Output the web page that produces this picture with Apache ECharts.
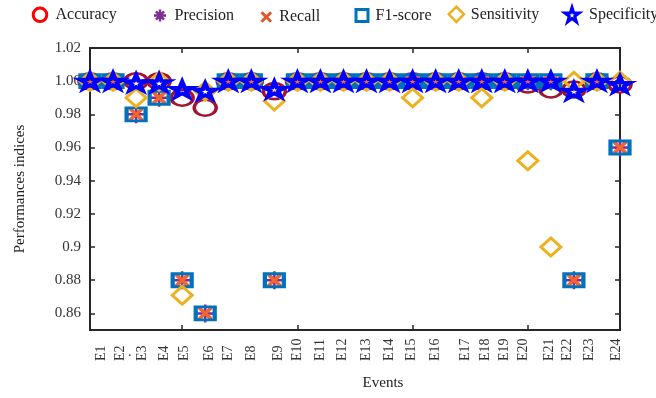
<!DOCTYPE html>
<html>
<head>
<meta charset="utf-8">
<script src="https://cdn.jsdelivr.net/npm/echarts@6/dist/echarts.min.js"></script>
<style>
  html, body { margin: 0; padding: 0; background: #fff; }
  #chart { width: 656px; height: 398px; }
</style>
</head>
<body>
<div id="chart"></div>
<script>
// Event labels and the x position (in event units) where each label sits
const events = ['E1','E2','E3','E4','E5','E6','E7','E8','E9','E10','E11','E12',
                'E13','E14','E15','E16','E17','E18','E19','E20','E21','E22','E23','E24'];
const eventLabelPos = [1.48, 2.31, 3.25, 4.22, 5.09, 6.17, 7.0, 7.98, 9.16, 9.99, 10.98, 11.97,
                       12.98, 13.97, 14.96, 15.97, 17.27, 18.14, 18.97, 19.79, 20.95, 21.73, 22.68, 23.84];
const xTicks = [5, 10, 15, 20];

// Performance indices per event
const accuracy    = [1, 1, 1, 1, 0.990, 0.984, 1, 1, 0.994, 1, 1, 1,
                     1, 1, 1, 1, 1, 1, 1, 0.998, 0.995, 0.995, 1, 0.998];
const precision   = [1, 1, 0.98, 0.99, 0.88, 0.86, 1, 1, 0.88, 1, 1, 1,
                     1, 1, 1, 1, 1, 1, 1, 1, 1, 0.88, 1, 0.96];
const recall      = [1, 1, 0.98, 0.99, 0.88, 0.86, 1, 1, 0.88, 1, 1, 1,
                     1, 1, 1, 1, 1, 1, 1, 1, 1, 0.88, 1, 0.96];
const f1score     = [1, 1, 0.98, 0.99, 0.88, 0.86, 1, 1, 0.88, 1, 1, 1,
                     1, 1, 1, 1, 1, 1, 1, 1, 1, 0.88, 1, 0.96];
const sensitivity = [1, 1, 0.99, 1, 0.871, 0.994, 1, 1, 0.988, 1, 1, 1,
                     1, 1, 0.99, 1, 1, 0.99, 1, 0.952, 0.90, 1, 1, 1];
const specificity = [1, 1, 0.999, 0.999, 0.995, 0.994, 1, 1, 0.995, 1, 1, 1,
                     1, 1, 1, 1, 1, 1, 1, 1, 1, 0.994, 1, 0.998];

// y tick values and their printed labels
const yTicks = [0.86, 0.88, 0.9, 0.92, 0.94, 0.96, 0.98, 1.00, 1.02];
const yTickLabels = ['0.86', '0.88', '0.9', '0.92', '0.94', '0.96', '0.98', '1.00', '1.02'];

const SERIF = '"Liberation Serif", "DejaVu Serif", serif';

const starPath = 'path://M50,0L61.23,34.55L97.55,34.55L68.16,55.9L79.39,90.45L50,69.1L20.61,90.45L31.84,55.9L2.45,34.55L38.77,34.55Z';
const crossPath = 'path://M0,0L10,10M10,0L0,10';
const asteriskPath = 'path://M5,0L5,10M0,5L10,5M1.6,1.6L8.4,8.4M8.4,1.6L1.6,8.4';

function pairs(values) {
  return values.map((v, i) => [i + 1, v]);
}

const seriesDefs = [
  { name: 'Accuracy',    data: accuracy,    symbol: 'circle',     size: [22, 16], color: '#A2142F', width: 3 },
  { name: 'Precision',   data: precision,   symbol: asteriskPath, size: [18, 18], color: '#7E2F8E', width: 2.5 },
  { name: 'Recall',      data: recall,      symbol: crossPath,    size: [12, 11], color: '#F26430', width: 3.5 },
  { name: 'F1-score',    data: f1score,     symbol: 'rect',       size: [19, 13], color: '#0072BD', width: 3.5 },
  { name: 'Sensitivity', data: sensitivity, symbol: 'diamond',    size: [20, 18], color: '#EDB120', width: 3 },
  { name: 'Specificity', data: specificity, symbol: starPath,     size: [21, 15], color: '#0000FF', width: 4 }
];

const series = seriesDefs.map(d => ({
  name: d.name,
  type: 'line',
  data: pairs(d.data),
  lineStyle: { width: 0, opacity: 0 },
  symbol: d.symbol,
  symbolSize: d.size,
  symbolKeepAspect: false,
  showAllSymbol: true,
  itemStyle: { color: 'transparent', borderColor: d.color, borderWidth: d.width, opacity: 1 },
  emphasis: { disabled: true },
  animation: false
}));

// legend entries: icon centre x and icon box
const legendItems = [
  { name: 'Accuracy',    cx: 40,  w: 17, h: 17, color: '#FF0000', bw: 3 },
  { name: 'Precision',   cx: 160, w: 15, h: 15, color: '#7E2F8E', bw: 2.5 },
  { name: 'Recall',      cx: 266, w: 12, h: 12, color: '#E0582A', bw: 3 },
  { name: 'F1-score',    cx: 361, w: 13, h: 15, color: '#0072BD', bw: 3 },
  { name: 'Sensitivity', cx: 455, w: 15, h: 19, color: '#EDB120', bw: 2.5 },
  { name: 'Specificity', cx: 572, w: 20, h: 18, color: '#0000FF', bw: 3 }
];

const legends = legendItems.map(l => ({
  show: true,
  left: l.cx - l.w / 2,
  top: 15 - l.h / 2,
  itemWidth: l.w,
  itemHeight: l.h,
  itemGap: 0,
  padding: 0,
  selectedMode: false,
  data: [{ name: l.name, itemStyle: { color: 'transparent', borderColor: l.color, borderWidth: l.bw } }],
  textStyle: { fontFamily: SERIF, fontSize: 16, color: '#222', padding: [0, 0, 0, 2] }
}));

const axisLineStyle = { show: true, lineStyle: { color: '#262626', width: 2 } };

const chart = echarts.init(document.getElementById('chart'), null, { renderer: 'canvas' });
chart.setOption({
  animation: false,
  backgroundColor: '#fff',
  legend: legends,
  grid: { left: 90, right: 36, top: 48, bottom: 68, containLabel: false },
  xAxis: [
    {
      type: 'value', min: 1, max: 24, position: 'bottom',
      name: 'Events', nameLocation: 'middle', nameGap: 46,
      nameTextStyle: { fontFamily: SERIF, fontSize: 15, color: '#222', padding: [0, 0, 0, 56] },
      axisLine: axisLineStyle,
      splitLine: { show: false },
      axisTick: { show: true, inside: true, length: 5, customValues: xTicks, lineStyle: { color: '#262626', width: 1.5 } },
      axisLabel: {
        show: true, customValues: eventLabelPos, rotate: 90, align: 'left', margin: 31,
        fontFamily: SERIF, fontSize: 14, color: '#333',
        formatter: (v) => events[eventLabelPos.indexOf(v)]
      }
    },
    {
      type: 'value', min: 1, max: 24, position: 'top',
      axisLine: axisLineStyle,
      splitLine: { show: false },
      axisTick: { show: true, inside: true, length: 5, customValues: xTicks, lineStyle: { color: '#262626', width: 1.5 } },
      axisLabel: { show: false }
    }
  ],
  yAxis: [
    {
      type: 'value', min: 0.85, max: 1.02, position: 'left',
      name: 'Performances indices', nameLocation: 'middle', nameGap: 62, nameRotate: 90,
      nameTextStyle: { fontFamily: SERIF, fontSize: 15, color: '#222' },
      axisLine: axisLineStyle,
      splitLine: { show: false },
      axisTick: { show: true, inside: true, length: 5, customValues: yTicks, lineStyle: { color: '#262626', width: 1.5 } },
      axisLabel: {
        show: true, customValues: yTicks, margin: 9,
        fontFamily: SERIF, fontSize: 15, color: '#333',
        formatter: (v) => yTickLabels[yTicks.findIndex(t => Math.abs(t - v) < 1e-9)]
      }
    },
    {
      type: 'value', min: 0.85, max: 1.02, position: 'right',
      axisLine: axisLineStyle,
      splitLine: { show: false },
      axisTick: { show: true, inside: true, length: 5, customValues: yTicks, lineStyle: { color: '#262626', width: 1.5 } },
      axisLabel: { show: false }
    }
  ],
  graphic: [
    { type: 'text', left: 128, top: 345, style: { text: '.', fontFamily: SERIF, fontSize: 14, fill: '#333' } }
  ],
  series: series
});
</script>
</body>
</html>
